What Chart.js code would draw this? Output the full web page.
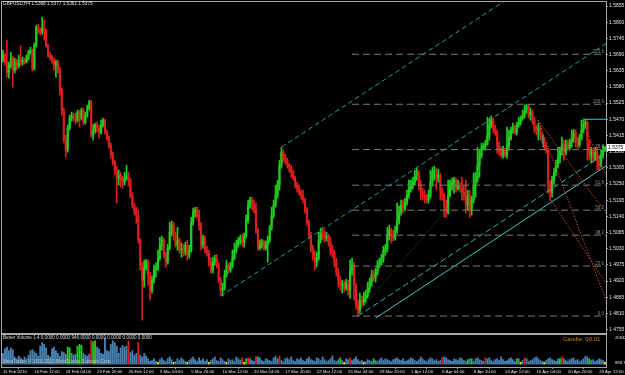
<!DOCTYPE html>
<html>
<head>
<meta charset="utf-8">
<script src="https://cdn.jsdelivr.net/npm/chart.js@4.4.1/dist/chart.umd.min.js"></script>
<style>
body{margin:0;background:#000;width:625px;height:375px;overflow:hidden;position:relative;font-family:"Liberation Sans",Arial,sans-serif}
canvas{position:absolute;left:0}
#main{top:0}
#vol{top:333px}
.txt{position:absolute;white-space:nowrap;line-height:1}
</style>
</head>
<body>
<canvas id="main" width="625" height="334"></canvas>
<canvas id="vol" width="625" height="42"></canvas>
<div class="txt" style="left:3px;top:2px;font-size:4.7px;color:#e6e6e6">GBPUSD,H4 1.5368 1.5377 1.5361 1.5375</div>
<div class="txt" style="left:3px;top:336px;font-size:4.6px;color:#d8d8d8">Better Volume 1.4 0.0000 0.0000 946.0000 0.0000 0.0000 0.0000 0.0000</div>
<div class="txt" style="left:563px;top:336px;font-size:6px;color:#d08400">Candle: 00:01</div>
<div class="txt" style="left:3px;top:360px;font-size:4.5px;color:#c0c0c0">MetaTrader, © 2001-2010 MetaQuotes Software Corp.</div>
<script>
// GBPUSD H4, 11 Feb - 23 Apr 2010
const firstOpen = 1.5671;
const closes = [
1.5688,1.5664,1.5630,1.5654,1.5678,1.5637,1.5664,1.5651,1.5671,1.5661,
1.5671,1.5664,1.5678,1.5698,1.5705,1.5644,1.5722,1.5783,1.5773,1.5766,
1.5780,1.5773,1.5722,1.5688,1.5681,1.5671,1.5654,1.5664,1.5637,1.5569,
1.5501,1.5399,1.5365,1.5440,1.5474,1.5484,1.5477,1.5467,1.5494,1.5474,
1.5501,1.5460,1.5484,1.5508,1.5528,1.5416,1.5433,1.5450,1.5440,1.5426,
1.5450,1.5467,1.5426,1.5406,1.5382,1.5348,1.5324,1.5297,1.5270,1.5280,
1.5263,1.5256,1.5270,1.5277,1.5263,1.5212,1.5178,1.5161,1.5144,1.5059,
1.4974,1.4923,1.4964,1.4984,1.4940,1.4889,1.4923,1.4957,1.4964,1.4998,
1.5042,1.5059,1.5008,1.4984,1.5032,1.5086,1.5110,1.5076,1.5042,1.5059,
1.5025,1.5032,1.5018,1.5042,1.5008,1.5025,1.5120,1.5154,1.5161,1.5144,
1.5110,1.5042,1.5066,1.5025,1.5015,1.4984,1.4957,1.4984,1.4998,1.4974,
1.4923,1.4889,1.4896,1.4940,1.4974,1.4957,1.4971,1.4998,1.5025,1.5042,
1.5059,1.5066,1.5052,1.5073,1.5127,1.5178,1.5195,1.5178,1.5161,1.5093,
1.5032,1.5042,1.5052,1.5032,1.5042,1.5059,1.5100,1.5144,1.5178,1.5212,
1.5246,1.5314,1.5358,1.5338,1.5331,1.5314,1.5304,1.5290,1.5270,1.5246,
1.5236,1.5222,1.5209,1.5195,1.5161,1.5120,1.5076,1.5032,1.5008,1.4984,
1.4998,1.5059,1.5086,1.5076,1.5066,1.5073,1.5052,1.5025,1.5018,1.4984,
1.4950,1.4923,1.4906,1.4909,1.4896,1.4913,1.4889,1.4957,1.4974,1.4906,
1.4838,1.4821,1.4855,1.4848,1.4862,1.4872,1.4896,1.4916,1.4940,1.4930,
1.4950,1.4974,1.4984,1.4998,1.5025,1.5032,1.5076,1.5093,1.5076,1.5066,
1.5093,1.5127,1.5154,1.5178,1.5168,1.5188,1.5212,1.5236,1.5246,1.5256,
1.5277,1.5290,1.5246,1.5222,1.5212,1.5202,1.5195,1.5212,1.5256,1.5290,
1.5297,1.5270,1.5280,1.5229,1.5212,1.5178,1.5154,1.5212,1.5246,1.5253,
1.5263,1.5236,1.5246,1.5236,1.5222,1.5202,1.5178,1.5212,1.5161,1.5195,
1.5246,1.5270,1.5314,1.5348,1.5372,1.5379,1.5385,1.5416,1.5450,1.5467,
1.5440,1.5426,1.5382,1.5365,1.5348,1.5365,1.5348,1.5382,1.5406,1.5433,
1.5440,1.5426,1.5450,1.5460,1.5474,1.5484,1.5501,1.5515,1.5484,1.5494,
1.5467,1.5440,1.5433,1.5440,1.5416,1.5399,1.5382,1.5365,1.5246,1.5222,
1.5263,1.5290,1.5314,1.5338,1.5365,1.5382,1.5358,1.5382,1.5372,1.5392,
1.5406,1.5426,1.5399,1.5382,1.5406,1.5433,1.5453,1.5460,1.5399,1.5348,
1.5365,1.5338,1.5358,1.5331,1.5314,1.5348,1.5368,1.5375
];
const highs = [
1.5705,1.5695,1.5739,1.5664,1.5698,1.5685,1.5678,1.5674,1.5688,1.5719,
1.5681,1.5678,1.5688,1.5705,1.5715,1.5708,1.5729,1.5790,1.5793,1.5780,
1.5817,1.5807,1.5776,1.5725,1.5698,1.5688,1.5678,1.5671,1.5671,1.5647,
1.5576,1.5508,1.5416,1.5450,1.5484,1.5494,1.5491,1.5491,1.5501,1.5501,
1.5508,1.5508,1.5494,1.5518,1.5535,1.5535,1.5453,1.5457,1.5460,1.5450,
1.5467,1.5474,1.5470,1.5433,1.5413,1.5389,1.5358,1.5331,1.5311,1.5297,
1.5290,1.5277,1.5290,1.5314,1.5290,1.5270,1.5222,1.5185,1.5171,1.5161,
1.5066,1.4984,1.4991,1.4994,1.4991,1.4950,1.4937,1.4974,1.4981,1.5025,
1.5069,1.5073,1.5066,1.5018,1.5045,1.5120,1.5124,1.5120,1.5086,1.5103,
1.5066,1.5049,1.5045,1.5052,1.5059,1.5042,1.5137,1.5168,1.5171,1.5171,
1.5161,1.5120,1.5076,1.5073,1.5039,1.5025,1.4998,1.5001,1.5008,1.5011,
1.4981,1.4933,1.4913,1.4957,1.4991,1.4981,1.4984,1.5025,1.5049,1.5059,
1.5069,1.5076,1.5079,1.5083,1.5144,1.5195,1.5205,1.5205,1.5195,1.5185,
1.5100,1.5059,1.5062,1.5059,1.5056,1.5073,1.5110,1.5171,1.5195,1.5246,
1.5263,1.5331,1.5375,1.5365,1.5351,1.5338,1.5321,1.5314,1.5297,1.5277,
1.5256,1.5246,1.5229,1.5229,1.5202,1.5171,1.5127,1.5086,1.5042,1.5025,
1.5018,1.5086,1.5100,1.5103,1.5093,1.5086,1.5079,1.5069,1.5042,1.5025,
1.4998,1.4964,1.4937,1.4923,1.4920,1.4926,1.4923,1.4991,1.4998,1.4984,
1.4913,1.4855,1.4879,1.4869,1.4882,1.4889,1.4916,1.4930,1.4957,1.4957,
1.4964,1.4991,1.4998,1.5011,1.5039,1.5045,1.5103,1.5110,1.5100,1.5093,
1.5107,1.5185,1.5175,1.5195,1.5195,1.5202,1.5229,1.5263,1.5263,1.5273,
1.5297,1.5304,1.5297,1.5263,1.5236,1.5229,1.5215,1.5229,1.5297,1.5307,
1.5311,1.5304,1.5300,1.5287,1.5239,1.5219,1.5195,1.5263,1.5263,1.5270,
1.5273,1.5270,1.5263,1.5256,1.5273,1.5246,1.5263,1.5229,1.5229,1.5209,
1.5287,1.5290,1.5375,1.5365,1.5389,1.5389,1.5399,1.5477,1.5474,1.5481,
1.5474,1.5450,1.5433,1.5392,1.5375,1.5379,1.5372,1.5443,1.5433,1.5443,
1.5457,1.5450,1.5460,1.5477,1.5481,1.5501,1.5518,1.5521,1.5521,1.5508,
1.5501,1.5477,1.5450,1.5457,1.5447,1.5423,1.5409,1.5392,1.5372,1.5263,
1.5277,1.5304,1.5331,1.5375,1.5375,1.5409,1.5399,1.5399,1.5399,1.5402,
1.5433,1.5436,1.5433,1.5409,1.5419,1.5467,1.5467,1.5470,1.5464,1.5399,
1.5375,1.5372,1.5375,1.5375,1.5348,1.5365,1.5382,1.5377
];
const lows = [
1.5664,1.5654,1.5613,1.5610,1.5644,1.5579,1.5627,1.5637,1.5644,1.5651,
1.5654,1.5657,1.5661,1.5671,1.5691,1.5634,1.5637,1.5715,1.5763,1.5756,
1.5759,1.5739,1.5715,1.5681,1.5671,1.5661,1.5637,1.5613,1.5627,1.5552,
1.5484,1.5389,1.5341,1.5358,1.5433,1.5464,1.5464,1.5453,1.5460,1.5443,
1.5467,1.5450,1.5453,1.5477,1.5501,1.5409,1.5399,1.5423,1.5426,1.5406,
1.5419,1.5443,1.5419,1.5399,1.5372,1.5338,1.5314,1.5280,1.5185,1.5246,
1.5239,1.5236,1.5246,1.5263,1.5243,1.5202,1.5168,1.5144,1.5117,1.5049,
1.4957,1.4787,1.4899,1.4957,1.4906,1.4855,1.4879,1.4913,1.4933,1.4957,
1.4991,1.5025,1.4998,1.4967,1.4977,1.5025,1.5073,1.5059,1.5035,1.5025,
1.5015,1.5001,1.5005,1.5008,1.4991,1.4998,1.5018,1.5110,1.5137,1.5134,
1.5093,1.5025,1.5032,1.5015,1.5005,1.4971,1.4947,1.4947,1.4974,1.4964,
1.4913,1.4872,1.4869,1.4889,1.4933,1.4947,1.4950,1.4964,1.4991,1.5015,
1.5035,1.5045,1.5039,1.5035,1.5066,1.5117,1.5168,1.5161,1.5151,1.5083,
1.5025,1.5025,1.5032,1.5025,1.5025,1.4984,1.5052,1.5093,1.5134,1.5171,
1.5202,1.5229,1.5304,1.5324,1.5317,1.5304,1.5290,1.5273,1.5263,1.5236,
1.5222,1.5212,1.5198,1.5185,1.5151,1.5107,1.5066,1.5018,1.4991,1.4957,
1.4967,1.4991,1.5049,1.5059,1.5052,1.5056,1.5039,1.5008,1.5001,1.4967,
1.4937,1.4899,1.4889,1.4879,1.4882,1.4889,1.4872,1.4862,1.4940,1.4855,
1.4824,1.4801,1.4811,1.4831,1.4838,1.4848,1.4862,1.4882,1.4903,1.4920,
1.4916,1.4940,1.4964,1.4974,1.4984,1.5008,1.5018,1.5059,1.5049,1.5056,
1.5059,1.5083,1.5113,1.5144,1.5151,1.5158,1.5178,1.5202,1.5222,1.5232,
1.5246,1.5263,1.5229,1.5195,1.5195,1.5185,1.5185,1.5185,1.5202,1.5243,
1.5263,1.5229,1.5256,1.5195,1.5195,1.5137,1.5137,1.5147,1.5205,1.5229,
1.5219,1.5222,1.5229,1.5222,1.5195,1.5195,1.5151,1.5161,1.5137,1.5144,
1.5185,1.5205,1.5256,1.5273,1.5338,1.5365,1.5365,1.5382,1.5399,1.5440,
1.5423,1.5416,1.5355,1.5348,1.5341,1.5338,1.5341,1.5338,1.5365,1.5399,
1.5423,1.5419,1.5416,1.5443,1.5450,1.5467,1.5474,1.5491,1.5474,1.5467,
1.5453,1.5423,1.5416,1.5399,1.5399,1.5389,1.5365,1.5355,1.5219,1.5195,
1.5205,1.5249,1.5277,1.5304,1.5321,1.5348,1.5331,1.5348,1.5365,1.5365,
1.5375,1.5392,1.5375,1.5372,1.5375,1.5399,1.5423,1.5440,1.5331,1.5331,
1.5321,1.5324,1.5331,1.5297,1.5297,1.5307,1.5338,1.5361
];
const volumes = [
8640,12240,13680,10800,12960,11520,5760,4320,6480,5040,3600,5760,4320,
7200,10800,11520,10080,8640,
6480,14400,17280,15840,12960,7200,5760,
12240,13680,10800,8640,6480,
10080,9360,7920,13680,12960,
8640,7200,7920,
14400,15840,15120,8640,7200,6480,7920,
18720,18000,18720,
13680,12240,8640,7920,
20942,
10800,10080,
15840,18720,17280,14400,8640,
12960,15120,13680,14400,
18720,
9360,10800,7200,8640,
17280,
7200,5760,8640,6480,4320,2160,
2880,4320,2160,1440,3600,5040,2880,2160,4320,5760,3600,1440,2160,4320,2880,5040,3600,2160,1440,2880,4320,5760,3600,2160,5040,
2880,4320,2160,3600,1440,2880,4320,5760,2880,2160,
5040,3600,2160,1440,4320,2880,3600,2160,5760,4320,
2880,5040,1440,4320,5040,4320,2880,2160,5760,5760,
5040,2880,2160,4320,3600,2880,2160,5040,6480,4320,
6480,2880,2160,4320,5040,3600,5760,2880,2160,4320,
3600,5040,2880,2160,4320,5760,3600,2880,2160,5040,
4320,2880,5760,3600,2160,2880,4320,6480,2880,2160,
3600,5040,2880,1440,4320,3600,5040,2880,4320,5760,
3600,2160,2880,1440,2160,3600,2880,2160,4320,2880,
2160,3600,5040,2880,4320,3600,2880,2160,3600,4320,
5040,3600,2880,4320,2160,2880,3600,5040,4320,2880,
2160,3600,5760,4320,2880,2160,3600,5040,4320,2880,
3600,2160,2880,5040,5760,5040,3600,2880,2160,4320,
3600,2880,5040,4320,2880,2160,3600,4320,4320,2160,
4320,5040,3600,2880,2160,5040,4320,5040,2880,2160,
3600,4320,2880,5760,3600,2160,2880,4320,5040,3600,
2160,4320,4320,1440,2880,5040,4320,2160,2880,3600,
5040,5760,4320,2880,2160,1440,2880,4320,5040,3600,
2880,2160,4320,4320,5760,4320,2880,2160,3600,4320,
5040,2880,3600,2160,2880,4320,6480,5760,4320,2880,
3600,2160,2880,4320,3600,2880,1440
];
// Better Volume bar classes
const climaxBars = [45,64,69,122,125,129,141,177,224,246,266,285];
const churnBars = [33,34,38,39,40,46,47,124,172,189,237,239,262,284,299];
const lowBars = [79,87,94,105,114,123,174,184,264,276,307];

const priceTicks = [1.4755,1.4810,1.4865,1.4920,1.4975,1.5030,1.5085,1.5140,1.5195,1.5250,
  1.5305,1.5360,1.5415,1.5470,1.5525,1.5580,1.5635,1.5690,1.5745,1.5800,1.5855];
const volTicks = [898.75, 20942.3];
const dateLabels = ["11 Feb 2010","16 Feb 12:00","19 Feb 04:00","23 Feb 20:00","26 Feb 12:00",
  "3 Mar 04:00","5 Mar 20:00","10 Mar 12:00","15 Mar 04:00","17 Mar 20:00","22 Mar 12:00",
  "25 Mar 04:00","29 Mar 20:00","1 Apr 12:00","6 Apr 04:00","8 Apr 20:00","13 Apr 12:00",
  "16 Apr 04:00","20 Apr 20:00","23 Apr 12:00"];

// drawn objects: [bar, price] end points
const channelA = [[111, 1.4869], [307.5, 1.5727]];
const channelB = [[142, 1.5375], [307.5, 1.6098]];
const channelC = [[181, 1.4801], [307.5, 1.5355]];
const trendD = [[190, 1.4794], [307.5, 1.5311]];
const dottedTrend = [[181, 1.4811], [243.5, 1.5297]];
const fanR1 = [[272.8, 1.5467], [307.5, 1.5151]];
const fanR2 = [[272.8, 1.5467], [307.5, 1.4855]];
const fanR3 = [[295.8, 1.5460], [307.5, 1.5280]];
const fanR4 = [[279.5, 1.5195], [307.5, 1.4913]];
const levelLine = [[295.8, 1.5470], [307.5, 1.5470]];
const markerLine = [[275.5, 1.5416], [275.5, 1.5375]];

const fibLevels = [0, 23.6, 38.2, 50, 61.8, 78.6, 100, 123.6];
const fibLow = 1.4801, fibHigh = 1.5521, fibStartBar = 178;

Chart.defaults.font.family = '"Liberation Sans", Arial, sans-serif';

const opens = closes.map((c, i) => i === 0 ? firstOpen : closes[i - 1]);
const xMax = closes.length - 0.5;
const fibPrice = lvl => fibLow + (fibHigh - fibLow) * lvl / 100;
const candleColor = ctx => closes[ctx.dataIndex] >= opens[ctx.dataIndex] ? '#1ed01e' : '#dc1e1e';

function segment(points, color, dash) {
  return {
    type: 'line',
    data: points.map(p => ({x: p[0], y: p[1]})),
    borderColor: color,
    borderWidth: 1,
    borderDash: dash || [],
    pointRadius: 0,
    fill: false,
    tension: 0,
    order: 0
  };
}

const frame = {
  id: 'frame',
  afterDraw(chart) {
    const {ctx, chartArea: a} = chart;
    ctx.save();
    ctx.strokeStyle = '#a8a8a8';
    ctx.lineWidth = 1;
    ctx.strokeRect(a.left - 0.5, a.top - 0.5, a.right - a.left + 1, a.bottom - a.top + 1);
    ctx.restore();
  }
};

const fibText = {
  id: 'fibText',
  afterDatasetsDraw(chart) {
    const {ctx, chartArea: a, scales: {y}} = chart;
    ctx.save();
    ctx.font = '4.5px "Liberation Sans"';
    ctx.fillStyle = '#8c8c8c';
    ctx.textAlign = 'right';
    ctx.textBaseline = 'bottom';
    fibLevels.forEach(l => ctx.fillText(l.toFixed(1), a.right - 2, y.getPixelForValue(fibPrice(l)) - 0.5));
    ctx.restore();
  }
};

const lastPrice = {
  id: 'lastPrice',
  afterDraw(chart) {
    const {ctx, chartArea: a, scales: {y}} = chart;
    const last = closes[closes.length - 1];
    const py = Math.round(y.getPixelForValue(last));
    ctx.save();
    ctx.fillStyle = '#ffffff';
    ctx.fillRect(a.right + 1, py - 3, 18, 7);
    ctx.fillStyle = '#000000';
    ctx.font = '5px "Liberation Sans"';
    ctx.textAlign = 'left';
    ctx.textBaseline = 'middle';
    ctx.fillText(last.toFixed(4), a.right + 2, py + 0.5);
    ctx.restore();
  }
};

new Chart(document.getElementById('main'), {
  type: 'bar',
  data: {
    datasets: [
      ...fibLevels.map(l => segment([[fibStartBar, fibPrice(l)], [xMax, fibPrice(l)]], '#7a7a7a', [7, 4])),
      segment(channelA, '#1f9c9c', [5, 3]),
      segment(channelB, '#1f9c9c', [5, 3]),
      segment(channelC, '#2ab0b0', [6, 3]),
      segment(trendD, '#3cc8c8'),
      segment(levelLine, '#3cc8c8'),
      segment(markerLine, '#2a9a9a'),
      segment(dottedTrend, '#1a7a1a', [1, 2]),
      segment(fanR1, '#c84a22', [1.5, 1.5]),
      segment(fanR2, '#c84a22', [1.5, 1.5]),
      segment(fanR3, '#c84a22', [1.5, 1.5]),
      segment(fanR4, '#c84a22', [1.5, 1.5]),
      {
        type: 'bar',
        data: closes.map((c, i) => ({x: i, y: [opens[i], c]})),
        backgroundColor: candleColor,
        barThickness: 1.5,
        minBarLength: 1,
        grouped: false,
        order: 2
      },
      {
        type: 'bar',
        data: highs.map((h, i) => ({x: i, y: [lows[i], h]})),
        backgroundColor: candleColor,
        barThickness: 1,
        grouped: false,
        order: 3
      }
    ]
  },
  options: {
    responsive: false,
    devicePixelRatio: 1,
    animation: false,
    events: [],
    layout: {padding: {left: 2, top: 2, right: 0, bottom: 1}},
    plugins: {legend: {display: false}, tooltip: {enabled: false}},
    scales: {
      x: {type: 'linear', min: -0.5, max: xMax, offset: false, display: false},
      y: {
        type: 'linear',
        position: 'right',
        min: 1.47434,
        max: 1.58686,
        afterBuildTicks: s => { s.ticks = priceTicks.map(v => ({value: v})); },
        afterFit: s => { s.width = 19; s.paddingTop = 0; s.paddingBottom = 0; },
        ticks: {color: '#e0e0e0', font: {size: 5}, padding: 1, autoSkip: false, callback: v => v.toFixed(4)},
        grid: {display: true, drawOnChartArea: false, tickLength: 2, color: '#9a9a9a'},
        border: {display: false}
      }
    }
  },
  plugins: [frame, fibText, lastPrice]
});

const volColor = ctx => {
  const i = ctx.dataIndex;
  if (climaxBars.includes(i)) return '#e01c1c';
  if (churnBars.includes(i)) return '#22cc22';
  if (lowBars.includes(i)) return '#e8e800';
  return '#4682b4';
};

new Chart(document.getElementById('vol'), {
  type: 'bar',
  data: {
    datasets: [{
      data: volumes.map((v, i) => ({x: i, y: v})),
      backgroundColor: volColor,
      barThickness: 1.2
    }]
  },
  options: {
    responsive: false,
    devicePixelRatio: 1,
    animation: false,
    events: [],
    layout: {padding: {left: 2, top: 2, right: 0, bottom: 0}},
    plugins: {legend: {display: false}, tooltip: {enabled: false}},
    scales: {
      x: {
        type: 'linear',
        min: -0.5,
        max: xMax,
        offset: false,
        afterBuildTicks: s => { s.ticks = dateLabels.map((_, k) => ({value: k * 16})); },
        afterFit: s => { s.height = 8; s.paddingLeft = 0; s.paddingRight = 0; },
        ticks: {color: '#e6e6e6', font: {size: 4.3}, align: 'start', maxRotation: 0, autoSkip: false, padding: 0,
          callback: (v, k) => dateLabels[k]},
        grid: {display: true, drawOnChartArea: false, tickLength: 2, color: '#9a9a9a'},
        border: {display: false}
      },
      y: {
        position: 'right',
        min: -2308,
        max: 23347,
        afterBuildTicks: s => { s.ticks = volTicks.map(v => ({value: v})); },
        afterFit: s => { s.width = 19; s.paddingTop = 0; s.paddingBottom = 0; },
        ticks: {color: '#e0e0e0', font: {size: 4.2}, padding: 1, autoSkip: false, callback: v => String(v)},
        grid: {display: false},
        border: {display: false}
      }
    }
  },
  plugins: [frame]
});
</script>
</body>
</html>
